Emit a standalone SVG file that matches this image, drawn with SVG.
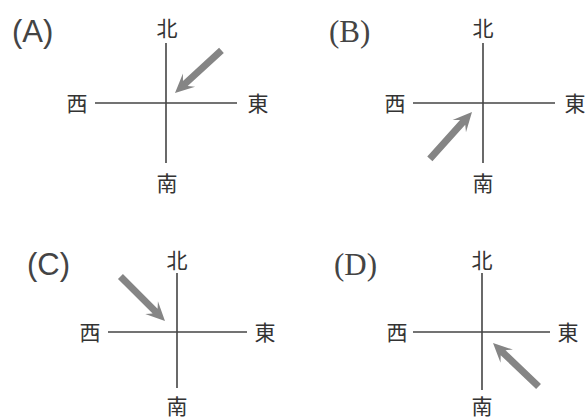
<svg xmlns="http://www.w3.org/2000/svg" xmlns:xlink="http://www.w3.org/1999/xlink" width="588" height="419" viewBox="0 0 588 419">
<style>
.ax{stroke:#444;stroke-width:1.6;fill:none}
.dir{font-family:"Noto Sans CJK JP","Noto Sans CJK TC",sans-serif;font-size:21px;fill:#333;text-anchor:middle}
.lbs{font-family:"Liberation Sans",Arial,sans-serif;font-size:31px;fill:#444}
.lbr{font-family:"Liberation Serif","Times New Roman",serif;font-size:31px;fill:#444}
.arr{fill:#858585}
</style>
<defs>
<polygon id="arrow" points="0,0 -19,-9 -14,-3.5 -63,-3.5 -63,3.5 -14,3.5 -19,9"/>
</defs>
<rect width="588" height="419" fill="#fff"/>
<g id="panelA">
<text class="lbs" x="12" y="42">(A)</text>
<line class="ax" x1="166" y1="43" x2="166" y2="163"/>
<line class="ax" x1="95" y1="103" x2="237" y2="103"/>
<text class="dir" x="167" y="36">北</text>
<text class="dir" x="77" y="111">西</text>
<text class="dir" x="258" y="111">東</text>
<text class="dir" x="167" y="191">南</text>
<use class="arr" href="#arrow" transform="translate(175,93) rotate(137.5)"/>
</g>
<g id="panelB">
<text class="lbr" x="329" y="42">(B)</text>
<line class="ax" x1="483" y1="43" x2="483" y2="163"/>
<line class="ax" x1="413" y1="103" x2="555" y2="103"/>
<text class="dir" x="483" y="36">北</text>
<text class="dir" x="395" y="111">西</text>
<text class="dir" x="575" y="111">東</text>
<text class="dir" x="483" y="191">南</text>
<use class="arr" href="#arrow" transform="translate(472,112) rotate(-48)"/>
</g>
<g id="panelC">
<text class="lbs" x="27" y="275">(C)</text>
<line class="ax" x1="177" y1="273" x2="177" y2="388"/>
<line class="ax" x1="108" y1="332" x2="247" y2="332"/>
<text class="dir" x="177" y="268">北</text>
<text class="dir" x="90" y="340">西</text>
<text class="dir" x="265" y="340">東</text>
<text class="dir" x="177" y="414">南</text>
<use class="arr" href="#arrow" transform="translate(165,321) rotate(45)"/>
</g>
<g id="panelD">
<text class="lbr" x="334" y="275">(D)</text>
<line class="ax" x1="482" y1="273" x2="482" y2="390"/>
<line class="ax" x1="413" y1="332" x2="550" y2="332"/>
<text class="dir" x="482" y="268">北</text>
<text class="dir" x="397" y="340">西</text>
<text class="dir" x="568" y="340">東</text>
<text class="dir" x="482" y="414">南</text>
<use class="arr" href="#arrow" transform="translate(493,343) rotate(-136.3)"/>
</g>
</svg>
